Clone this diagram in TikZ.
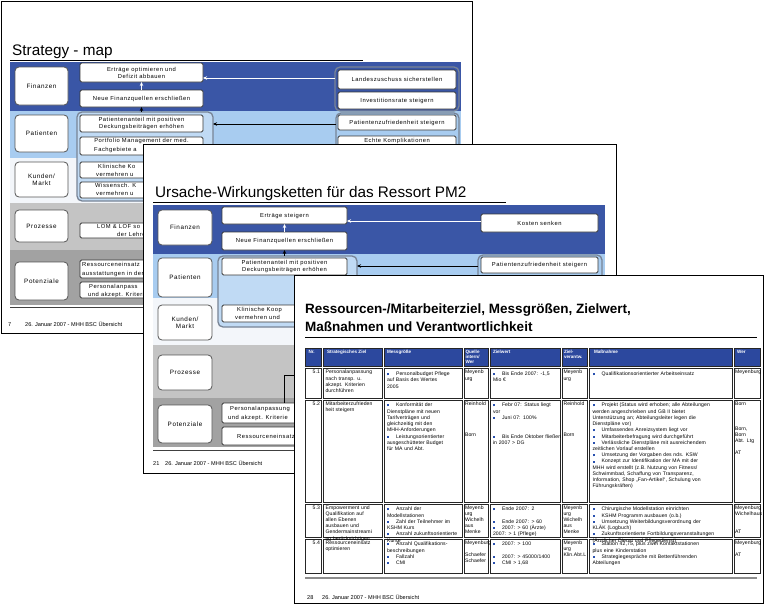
\documentclass[tikz,border=0pt]{standalone}
\usepackage{fontspec}
\setmainfont{Liberation Sans}
\newfontfamily\boxf[LetterSpace=9]{Liberation Sans}
\newfontfamily\tabf[LetterSpace=2]{Liberation Sans}
\usetikzlibrary{arrows.meta}
\definecolor{finblue}{RGB}{58,86,166}
\definecolor{patblue}{RGB}{168,204,240}
\definecolor{grpblue}{RGB}{192,218,244}
\definecolor{kundbg}{RGB}{243,246,250}
\definecolor{prozgray}{RGB}{196,196,196}
\definecolor{potgray}{RGB}{162,162,162}
\definecolor{boxborder}{RGB}{55,55,55}
\definecolor{catborder}{RGB}{85,85,85}
\definecolor{grpborder}{RGB}{120,132,150}
\definecolor{hdrblue}{RGB}{44,72,158}
\definecolor{bulblue}{RGB}{40,80,175}
\tikzset{
 slide/.style={draw=black, line width=0.9pt, fill=white},
 cat/.style={draw=catborder, fill=white, rounded corners=4pt, line width=0.8pt, inner sep=0pt, outer sep=0pt, align=center, font=\boxf\fontsize{6.3}{7.3}\selectfont},
 ib/.style={draw=boxborder, fill=white, rounded corners=1.5pt, line width=0.9pt, inner sep=0pt, outer sep=0pt, align=center, font=\boxf\fontsize{5.8}{7}\selectfont},
 grp/.style={draw=grpborder, line width=1.3pt, rounded corners=5pt, inner sep=0pt, outer sep=0pt},
 warr/.style={draw=white, line width=0.8pt, -{Stealth[length=4pt,width=3.5pt]}},
 barr/.style={draw=black, line width=0.8pt, -{Stealth[length=4pt,width=3.5pt]}},
 frag/.style={anchor=base west, inner sep=0pt, font=\boxf\fontsize{5.8}{7}\selectfont},
 sttitle/.style={anchor=base west, inner sep=0pt, font=\fontsize{15.3}{18}\selectfont},
 foot/.style={anchor=base west, inner sep=0pt, font=\fontsize{5.6}{6}\selectfont},
 uline/.style={draw=black, line width=0.8pt},
 fline/.style={draw=black!75, line width=0.8pt},
 tc/.style={draw=black!85, line width=0.8pt, inner sep=0pt, outer sep=0pt},
 tcell/.style={anchor=north west, inner sep=0pt, outer sep=0pt, align=left, font=\tabf\fontsize{5.1}{6.23}\selectfont},
 tnum/.style={anchor=base east, inner sep=0pt, outer sep=0pt, font=\tabf\fontsize{5.1}{6.23}\selectfont},
 thead/.style={anchor=north west, inner sep=0pt, outer sep=0pt, align=left, text=white, font=\bfseries\fontsize{4.6}{5}\selectfont},
}
\newcommand\bx[7][]{\node[#1, minimum width={(#5)-(#3)}, minimum height={(#6)-(#4)}] (#2) at ({((#3)+(#5))/2},{((#4)+(#6))/2}) {#7};}
\newcommand\tx[5]{\node[tcell, text width=#4pt] (#1) at (#2,{#3-4.36}) {\strut #5};}
\newcommand\tb[5]{\node[tcell, text width=#4pt] (#1) at (#2,{#3-4.36}) {#5};}
\newcommand\itm{\par\hangindent=9pt\hangafter=1\noindent\hbox to 9pt{\textcolor{bulblue}{\rule[0.4pt]{2pt}{2pt}}\hfil}\strut}
\newcommand\thd[4]{\node[thead] (#1) at (#2,#3) {\strut #4};}
\begin{document}
\begin{tikzpicture}[x=1pt,y=-1pt]
\useasboundingbox (0,0) rectangle (764,605);
\fill[white] (0,0) rectangle (764,605);

%%%%%%%%%%%%%%%% Slide 1
\draw[slide] (1,1) rectangle (472,333);
\node[sttitle] (t1) at (12,55) {Strategy - map};
\draw[uline] (10,60) -- (363,60);
\fill[finblue] (10,62) rectangle (461,111);
\fill[patblue] (10,111) rectangle (461,158);
\fill[kundbg] (10,158) rectangle (461,203);
\fill[prozgray] (10,203) rectangle (461,250);
\fill[potgray] (10,250) rectangle (461,305);
\draw[fline] (10,307) -- (461,307);

\bx[cat]{c1a}{15}{67}{68}{105}{Finanzen}
\bx[cat]{c1b}{15}{115}{68}{152}{Patienten}
\bx[cat]{c1c}{15}{162}{68}{197}{Kunden/\\Markt}
\bx[cat]{c1d}{15}{210}{68}{242}{Prozesse}
\bx[cat]{c1e}{15}{262}{68}{300}{Potenziale}

\bx[grp, fill=grpblue]{g1m}{77}{112}{213}{201}{}
\bx[ib]{e1}{80}{63}{203}{82}{Erträge optimieren und\\Defizit abbauen}
\bx[ib]{n1}{80}{90}{203}{107}{Neue Finanzquellen erschließen}
\bx[ib]{p1}{80}{115}{203}{132}{Patientenanteil mit positiven\\Deckungsbeiträgen erhöhen}
\bx[ib]{pf1}{80}{137}{203}{155}{}
\node[frag, anchor=base] (pf1a) at (141.5,142.5) {Portfolio Management der med.};
\node[frag] (pf1b) at (94,151) {Fachgebiete a};
\bx[ib]{k1}{80}{162}{203}{178}{}
\node[frag] (k1a) at (98,168) {Klinische Ko};
\node[frag] (k1b) at (96,176.5) {vermehren u};
\bx[ib]{w1}{80}{182}{203}{198}{}
\node[frag] (w1a) at (95,187) {Wissensch. K};
\node[frag] (w1b) at (96,195) {vermehren u};
\bx[ib]{l1}{80}{223}{203}{238}{}
\node[frag] (l1a) at (97,228.5) {LOM \& LOF so};
\node[frag] (l1b) at (117,236.5) {der Lehre};
\bx[ib]{r1}{80}{260}{203}{278}{}
\node[frag] (r1a) at (82,266) {Ressourceneinsatz};
\node[frag] (r1b) at (82,275) {ausstattungen in der};
\bx[ib]{pa1}{80}{282}{203}{298}{}
\node[frag] (pa1a) at (89,288) {Personalanpass};
\node[frag] (pa1b) at (88,296) {und akzept. Kriterie};

\bx[grp]{g1f}{335}{67}{459}{111}{}
\bx[ib]{lz}{338}{70}{456}{89}{Landeszuschuss sicherstellen}
\bx[ib]{iv}{338}{92}{456}{109}{Investitionsrate steigern}
\bx[grp, fill=patblue]{g1p}{336}{113}{459}{200}{}
\bx[ib]{pz1}{338}{115}{456}{130}{Patientenzufriedenheit steigern}
\bx[ib]{ek1}{338}{136}{456}{160}{}
\node[frag, anchor=base] (ek1a) at (397,142) {Echte Komplikationen};

\coordinate (a1) at (300,78);
\coordinate (a2) at (300,124);
\draw[warr] (g1f.west |- a1) -- (e1.east |- a1);
\draw[warr] (n1.north) -- (e1.south);
\draw[barr] (n1.south |- g1m.north) -- (n1.south);
\draw[barr] (g1p.west |- a2) -- (g1m.east |- a2);

\node[foot] (s1n) at (8,326) {7};
\node[foot] (s1d) at (25,326) {26. Januar 2007 - MHH BSC Übersicht};

%%%%%%%%%%%%%%%% Slide 2
\draw[slide] (143.5,144) rectangle (616,473);
\node[sttitle] (t2) at (155,197) {Ursache-Wirkungsketten für das Ressort PM2};
\draw[uline] (153,202) -- (506,202);
\fill[finblue] (153,205) rectangle (605,254);
\fill[patblue] (153,254) rectangle (605,298);
\fill[kundbg] (153,298) rectangle (605,345);
\fill[prozgray] (153,345) rectangle (605,398);
\fill[potgray] (153,398) rectangle (605,447);
\draw[fline] (153,450) -- (605,450);

\bx[cat]{c2a}{158}{210}{212}{245}{Finanzen}
\bx[cat]{c2b}{158}{258}{212}{297}{Patienten}
\bx[cat]{c2c}{158}{305}{212}{340}{Kunden/\\Markt}
\bx[cat]{c2d}{158}{355}{212}{390}{Prozesse}
\bx[cat]{c2e}{158}{405}{212}{443}{Potenziale}

\bx[grp, fill=grpblue]{g2m}{218}{256}{357}{327}{}
\bx[ib]{e2}{222}{207}{347}{224}{Erträge steigern}
\bx[ib]{n2}{222}{232}{347}{250}{Neue Finanzquellen erschließen}
\bx[ib]{p2}{222}{258}{347}{275}{Patientenanteil mit positiven\\Deckungsbeiträgen erhöhen}
\bx[ib]{k2}{222}{305}{347}{322}{}
\node[frag] (k2a) at (237,311) {Klinische Koop};
\node[frag] (k2b) at (235,319.5) {vermehren und};
\bx[ib]{pa2}{222}{403}{347}{423}{}
\node[frag] (pa2a) at (230,410) {Personalanpassung};
\node[frag] (pa2b) at (228,419) {und akzept. Kriterie};
\bx[ib]{rs2}{222}{427}{347}{445}{}
\node[frag] (rs2a) at (237,438.5) {Ressourceneinsatz};

\bx[ib]{ks}{481}{214}{598}{232}{Kosten senken}
\bx[grp, fill=patblue]{g2p}{478}{255}{602}{300}{}
\bx[ib]{pz2}{481}{257}{598}{273}{Patientenzufriedenheit steigern}

\coordinate (a3) at (420,221);
\coordinate (a4) at (420,266);
\coordinate (a5) at (330,375);
\draw[warr] (ks.west |- a3) -- (e2.east |- a3);
\draw[warr] (n2.north) -- (e2.south);
\draw[barr] (n2.south |- g2m.north) -- (n2.south);
\draw[barr] (g2p.west |- a4) -- (g2m.east |- a4);
\draw[black, line width=0.8pt] (pa2.north) |- (a5);

\node[foot] (s2n) at (153,465) {21};
\node[foot] (s2d) at (165,465) {26. Januar 2007 - MHH BSC Übersicht};

%%%%%%%%%%%%%%%% Slide 3
\draw[slide] (294,275) rectangle (763,603);
\node[anchor=base west, inner sep=0pt, font=\bfseries\fontsize{13.5}{16}\selectfont] (t3a) at (305,313) {Ressourcen-/Mitarbeiterziel, Messgrößen, Zielwert,};
\node[anchor=base west, inner sep=0pt, font=\bfseries\fontsize{13.5}{16}\selectfont] (t3b) at (305,331) {Maßnahmen und Verantwortlichkeit};
\draw[uline] (305,337) -- (757,337);

\foreach \c/\xa/\xb in {a/305.5/321.5,b/323.5/382,c/384/462,d/464/488,e/490/560,f/562/587,g/589/732,h/734/760}{
  \foreach \r/\ya/\yb/\fc in {0/348/366/hdrblue,1/368/398/white,2/400/502/white,3/504/537/white,4/539/573/white}{
    \node[tc, fill=\fc, minimum width={\xb-\xa}, minimum height={\yb-\ya}] (cell\c\r) at ({(\xa+\xb)/2},{(\ya+\yb)/2}) {};
  }
}
% header
\thd{ha}{308.5}{349.8}{Nr.}
\thd{hb}{327}{349.8}{Strategisches Ziel}
\thd{hc}{387}{349.8}{Messgröße}
\thd{hd}{465.5}{349.8}{Quelle\\intern/\\Wer}
\thd{he}{493}{349.8}{Zielwert}
\thd{hf}{564}{349.8}{Ziel-\\verantw.}
\thd{hg}{594}{349.8}{Maßnahme}
\thd{hh}{737}{349.8}{Wer}

% row 5.1
\node[tnum] (n51) at (320,373.8) {5.1};
\tx{s51}{325.5}{373.8}{70}{Personalanpassung\\nach transp. u.\\akzept. Kriterien\\durchführen}
\tb{m51}{387}{373.8}{90}{\itm Personalbudget Pflege\newline auf Basis des Wertes\newline 2005}
\tx{q51}{465}{373.8}{30}{Meyenb\\urg}
\tb{z51}{493}{373.8}{80}{\itm Bis Ende 2007: -1,5\newline Mio €}
\tx{v51}{563.5}{373.8}{30}{Meyenb\\urg}
\tb{a51}{592.5}{373.8}{160}{\itm Qualifikationsorientierter Arbeitseinsatz}
\tx{w51}{735}{373.8}{40}{Meyenburg}

% row 5.2
\node[tnum] (n52) at (320,405) {5.2};
\tx{s52}{325.5}{405}{70}{Mitarbeiterzufrieden\\heit steigern}
\tb{m52a}{387}{405}{90}{\itm Konformität der\newline Dienstpläne mit neuen\newline Tarifverträgen und\newline gleichzeitig mit den\newline MHH-Anforderungen}
\tb{m52b}{387}{436.2}{90}{\itm Leistungsorientierter\newline ausgeschütteter Budget\newline für MA und Abt.}
\tx{q52a}{465}{405}{30}{Reinhold}
\tx{q52b}{465}{436.2}{30}{Born}
\tb{z52a}{493}{405}{80}{\itm Febr 07: Status liegt\newline vor}
\tb{z52b}{493}{417.5}{80}{\itm Juni 07: 100\%}
\tb{z52c}{493}{436.2}{80}{\itm Bis Ende Oktober fließen\newline in 2007 > DG}
\tx{v52a}{563.5}{405}{30}{Reinhold}
\tx{v52b}{563.5}{436.2}{30}{Born}
\tb{a52a}{592.5}{405}{160}{\itm Projekt (Status wird erhoben; alle Abteilungen\newline werden angeschrieben und GB II bietet\newline Unterstützung an; Abteilungsleiter legen die\newline Dienstpläne vor)}
\tb{a52b}{592.5}{430}{160}{\itm Umfassendes Anreizsystem liegt vor}
\tb{a52c}{592.5}{436.2}{160}{\itm Mitarbeiterbefragung wird durchgeführt}
\tb{a52d}{592.5}{442.4}{160}{\itm Verlässliche Dienstpläne mit ausreichendem\newline zeitlichen Vorlauf erstellen}
\tb{a52e}{592.5}{454.9}{160}{\itm Umsetzung der Vorgaben des nds. KSW}
\tb{a52f}{592.5}{461.1}{160}{\itm Konzept zur Identifikation der MA mit der\newline MHH wird erstellt (z.B. Nutzung von Fitness/\newline Schwimmbad, Schaffung von Transparenz,\newline Information, Shop „Fan-Artikel“, Schulung von\newline Führungskräften)}
\tx{w52a}{735}{405}{40}{Born}
\tx{w52b}{735}{430}{40}{Born,\\Born\\Abt. Ltg}
\tx{w52c}{735}{454.9}{40}{AT}

% row 5.3
\node[tnum] (n53) at (320,509) {5.3};
\tx{s53}{325.5}{509}{70}{Empowerment und\\Qualifikation auf\\allen Ebenen\\ausbauen und\\Gendermainstreami\\ng berücksichtigen}
\tb{m53a}{387}{509}{90}{\itm Anzahl der\newline Modellstationen}
\tb{m53b}{387}{521.5}{90}{\itm Zahl der Teilnehmer im\newline KSHM Kurs}
\tb{m53c}{387}{533.9}{90}{\itm Anzahl zukunftsorientierte\newline Kurse}
\tx{q53}{465}{509}{30}{Meyenb\\urg\\Wichelh\\aus\\Menke}
\tb{z53a}{493}{509}{80}{\itm Ende 2007: 2}
\tb{z53b}{493}{521.5}{80}{\itm Ende 2007: > 60}
\tb{z53c}{493}{527.7}{80}{\itm 2007: > 60 (Ärzte)\newline 2007: > 1 (Pflege)}
\tx{v53}{563.5}{509}{30}{Meyenb\\urg\\Wichelh\\aus\\Menke}
\tb{a53a}{592.5}{509}{160}{\itm Chirurgische Modellstation einrichten}
\tb{a53b}{592.5}{515.2}{160}{\itm KSHM Programm ausbauen (o.b.)}
\tb{a53c}{592.5}{521.5}{160}{\itm Umsetzung Weiterbildungsverordnung der\newline KLÄK (Logbuch)}
\tb{a53d}{592.5}{533.9}{160}{\itm Zukunftsorientierte Fortbildungsveranstaltungen\newline (Ärztlicher Dienst und Pflegedienst)}
\tx{w53a}{735}{509}{40}{Meyenburg\\Wichelhaus}
\tx{w53b}{735}{533.9}{40}{AT}

% row 5.4
\node[tnum] (n54) at (320,544) {5.4};
\tx{s54}{325.5}{544}{70}{Ressourceneinsatz\\optimieren}
\tb{m54a}{387}{544}{90}{\itm Anzahl Qualifikations-\newline beschreibungen}
\tb{m54b}{387}{556.5}{90}{\itm Fallzahl}
\tb{m54c}{387}{562.7}{90}{\itm CMI}
\tx{q54a}{465}{544}{40}{Meyenburg}
\tx{q54b}{465}{556.5}{30}{Schaefer\\Schaefer}
\tb{z54a}{493}{544}{80}{\itm 2007: > 100}
\tb{z54b}{493}{556.5}{80}{\itm 2007: > 45000/1400}
\tb{z54c}{493}{562.7}{80}{\itm CMI > 1,68}
\tx{v54}{563.5}{544}{30}{Meyenb\\urg\\Klin.Abt.L}
\tb{a54a}{592.5}{544}{160}{\itm Station 42,75, plus zwei Kontaktstationen\newline plus eine Kinderstation}
\tb{a54b}{592.5}{556.5}{160}{\itm Strategiegespräche mit Bettenführenden\newline Abteilungen}
\tx{w54a}{735}{544}{40}{Meyenburg}
\tx{w54b}{735}{556.5}{40}{AT}

\draw[draw=black!45, line width=1.6pt] (305,578) -- (757,578);
\node[foot] (s3n) at (307,599) {28};
\node[foot] (s3d) at (322,599) {26. Januar 2007 - MHH BSC Übersicht};
\end{tikzpicture}
\end{document}
